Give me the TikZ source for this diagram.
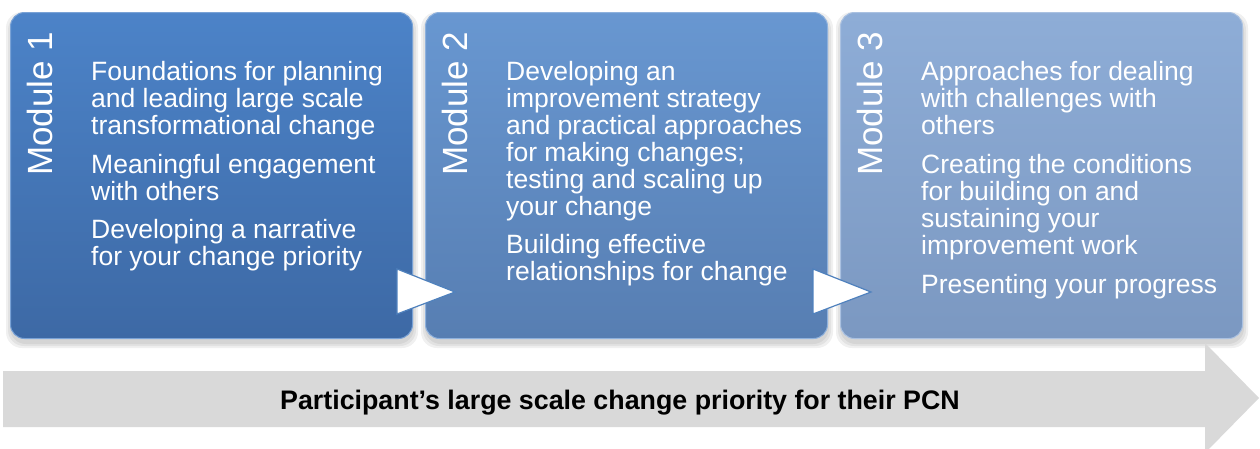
\documentclass[tikz,border=0pt]{standalone}
\usepackage{fontspec}
\setmainfont{Liberation Sans}
\definecolor{bAtop}{RGB}{76,131,200}
\definecolor{bAbot}{RGB}{61,105,165}
\definecolor{bBtop}{RGB}{104,151,209}
\definecolor{bBbot}{RGB}{87,126,178}
\definecolor{bCtop}{RGB}{142,173,215}
\definecolor{bCbot}{RGB}{123,152,193}
\definecolor{arrowgray}{RGB}{217,217,217}
\definecolor{triedge}{RGB}{79,129,189}
\begin{document}
\begin{tikzpicture}[x=1pt,y=-1pt,
  modbox/.style={rounded corners=14pt, minimum width=402pt, minimum height=326pt,
    anchor=north west, inner sep=0pt, line width=1pt},
  boxshadow/.style={fill=black, opacity=0.06, rounded corners=16pt},
  modlabel/.style={rotate=90, anchor=base west, inner sep=0pt, text=white,
    font=\fontsize{35}{38}\selectfont},
  bodytext/.style={anchor=base west, inner sep=0pt, text=white,
    font=\fontsize{26.5}{27}\selectfont},
  tri/.style={fill=white, draw=triedge, line width=1.2pt, line join=miter},
  bigarrow/.style={fill=arrowgray},
  arrowtext/.style={anchor=base, inner sep=0pt, text=black,
    font=\fontsize{26.8}{28}\selectfont\bfseries}]
\useasboundingbox (0,0) rectangle (1260,448);
\clip (0,0) rectangle (1260,448);
% shadows
\foreach \bx in {10,425,840}{
  \foreach \d in {1,3,5}{
    \fill[boxshadow] (\bx-\d+1,12-\d+5) rectangle (\bx+402+\d+1,338+\d+5);
  }
}
% boxes
\node[modbox, top color=bAtop, bottom color=bAbot, draw=bAtop!75!white] (box1) at (10,12) {};
\node[modbox, top color=bBtop, bottom color=bBbot, draw=bBtop!75!white] (box2) at (425,12) {};
\node[modbox, top color=bCtop, bottom color=bCbot, draw=bCtop!75!white] (box3) at (840,12) {};
% labels
\node[modlabel] (lab1) at (52,176) {Module 1};
\node[modlabel] (lab2) at (467,176) {Module 2};
\node[modlabel] (lab3) at (882,176) {Module 3};
% texts
\foreach \yy/\ty [count=\i] in {80/{Foundations for planning},107/{and leading large scale},
  134/{transformational change},173/{Meaningful engagement},200/{with others},
  238/{Developing a narrative},265/{for your change priority}}
  \node[bodytext] (ta-\i) at (91,\yy) {\ty};
\foreach \yy/\ty [count=\i] in {80/{Developing an},107/{improvement strategy},
  134/{and practical approaches},161/{for making changes;},188/{testing and scaling up},
  215/{your change},253/{Building effective},280/{relationships for change}}
  \node[bodytext] (tb-\i) at (506,\yy) {\ty};
\foreach \yy/\ty [count=\i] in {80/{Approaches for dealing},107/{with challenges with},
  134/{others},173/{Creating the conditions},200/{for building on and},
  227/{sustaining your},254/{improvement work},293/{Presenting your progress}}
  \node[bodytext] (tc-\i) at (921,\yy) {\ty};
% connecting triangles
\draw[tri] (397,269) -- (397,314) -- (455,292) -- cycle;
\draw[tri] (813,269) -- (813,314) -- (871,292) -- cycle;
% big arrow
\fill[bigarrow] (3,371) -- (1205,371) -- (1205,343) -- (1259,398) -- (1205,453)
  -- (1205,427) -- (3,427) -- cycle;
\node[arrowtext] (prio) at (620,409) {Participant’s large scale change priority for their PCN};
\end{tikzpicture}
\end{document}
